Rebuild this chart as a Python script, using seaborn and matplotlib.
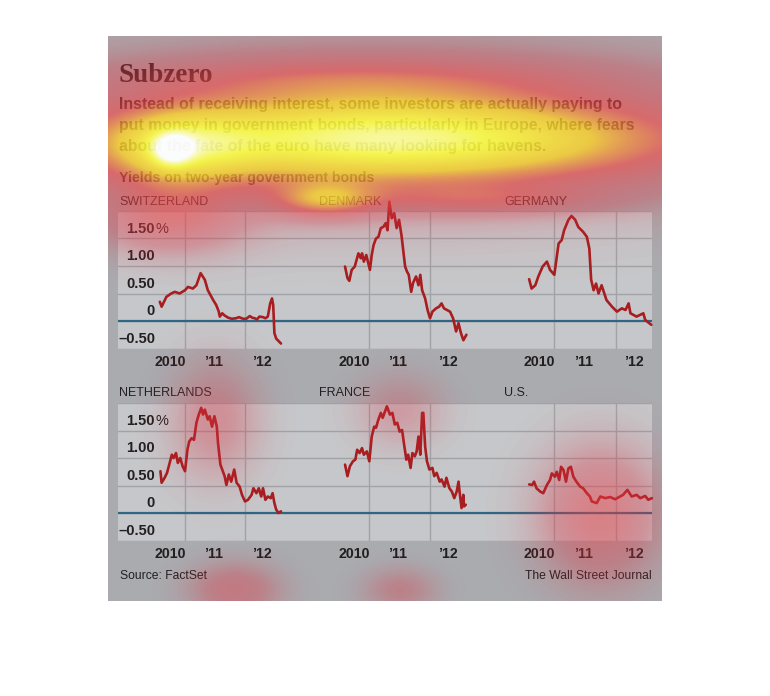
import numpy as np
import matplotlib
matplotlib.use("Agg")
import matplotlib.pyplot as plt
import matplotlib.transforms as mtransforms
from matplotlib.colors import LinearSegmentedColormap
from matplotlib.patches import Rectangle
from matplotlib.ticker import FixedLocator, FixedFormatter
import seaborn as sns

# Data: two-year government bond yields (decimal years, %)
swiss_t = [2010.58, 2010.61, 2010.69, 2010.77, 2010.83, 2010.91, 2011.00, 2011.05, 2011.13, 2011.19,
           2011.26, 2011.33, 2011.38, 2011.47, 2011.52, 2011.56, 2011.58, 2011.62, 2011.66, 2011.72,
           2011.78, 2011.85, 2011.90, 2011.97, 2012.02, 2012.08, 2012.12, 2012.16, 2012.20, 2012.24,
           2012.30, 2012.34, 2012.38, 2012.42, 2012.45, 2012.47, 2012.49, 2012.52, 2012.60]
swiss_v = [0.35, 0.26, 0.44, 0.50, 0.53, 0.50, 0.56, 0.62, 0.59, 0.65,
           0.87, 0.75, 0.56, 0.38, 0.29, 0.18, 0.08, 0.14, 0.10, 0.06,
           0.04, 0.05, 0.07, 0.04, 0.04, 0.09, 0.06, 0.05, 0.03, 0.08,
           0.07, 0.05, 0.08, 0.32, 0.41, 0.29, -0.22, -0.32, -0.41]

denmark_t = [2010.60, 2010.64, 2010.67, 2010.71, 2010.76, 2010.79, 2010.82, 2010.86, 2010.88, 2010.91,
             2010.95, 2011.01, 2011.04, 2011.07, 2011.11, 2011.15, 2011.19, 2011.23, 2011.27, 2011.30,
             2011.33, 2011.37, 2011.41, 2011.45, 2011.49, 2011.53, 2011.59, 2011.62, 2011.65, 2011.69,
             2011.72, 2011.77, 2011.81, 2011.84, 2011.87, 2011.92, 2011.96, 2012.00, 2012.04, 2012.10,
             2012.15, 2012.19, 2012.23, 2012.28, 2012.33, 2012.38, 2012.43, 2012.47, 2012.51, 2012.55,
             2012.60]
denmark_v = [0.99, 0.78, 0.73, 0.93, 0.99, 1.11, 1.23, 1.14, 1.23, 1.08,
             1.20, 0.93, 1.20, 1.38, 1.50, 1.53, 1.69, 1.71, 1.78, 1.65,
             2.17, 1.87, 1.96, 1.69, 1.84, 1.56, 0.99, 0.90, 0.84, 0.53,
             0.69, 0.81, 0.65, 0.84, 0.56, 0.41, 0.20, 0.05, 0.17, 0.23,
             0.26, 0.32, 0.23, 0.20, 0.17, 0.05, -0.19, -0.04, -0.22, -0.35,
             -0.25]

germany_t = [2010.59, 2010.63, 2010.69, 2010.74, 2010.81, 2010.88, 2010.93, 2011.00, 2011.07, 2011.12,
             2011.16, 2011.23, 2011.28, 2011.34, 2011.39, 2011.47, 2011.53, 2011.57, 2011.60, 2011.64,
             2011.68, 2011.72, 2011.77, 2011.85, 2011.94, 2012.02, 2012.10, 2012.16, 2012.21, 2012.24,
             2012.34, 2012.45, 2012.48, 2012.58]
germany_v = [0.76, 0.59, 0.65, 0.81, 0.99, 1.08, 0.93, 0.84, 1.41, 1.47,
             1.65, 1.84, 1.91, 1.84, 1.71, 1.62, 1.53, 1.32, 0.75, 0.56,
             0.68, 0.50, 0.65, 0.38, 0.26, 0.17, 0.23, 0.20, 0.32, 0.14,
             0.08, 0.14, 0.02, -0.07]

netherlands_t = [2010.59, 2010.61, 2010.66, 2010.70, 2010.73, 2010.78, 2010.81, 2010.85, 2010.88, 2010.92,
                 2010.96, 2011.00, 2011.04, 2011.07, 2011.11, 2011.15, 2011.19, 2011.23, 2011.27, 2011.30,
                 2011.33, 2011.38, 2011.41, 2011.45, 2011.49, 2011.53, 2011.55, 2011.59, 2011.63, 2011.66,
                 2011.69, 2011.73, 2011.77, 2011.82, 2011.86, 2011.91, 2011.95, 2012.00, 2012.05, 2012.11,
                 2012.14, 2012.19, 2012.23, 2012.27, 2012.30, 2012.34, 2012.38, 2012.43, 2012.46, 2012.49,
                 2012.52, 2012.56, 2012.60]
netherlands_v = [0.76, 0.55, 0.64, 0.73, 0.85, 1.06, 1.00, 1.09, 0.91, 1.00,
                 0.85, 0.76, 1.15, 1.30, 1.36, 1.33, 1.64, 1.79, 1.91, 1.79,
                 1.88, 1.70, 1.76, 1.57, 1.76, 1.57, 1.27, 0.88, 0.76, 0.67,
                 0.51, 0.70, 0.57, 0.79, 0.55, 0.48, 0.33, 0.21, 0.24, 0.33,
                 0.45, 0.36, 0.45, 0.30, 0.45, 0.24, 0.30, 0.27, 0.36, 0.18,
                 0.06, 0.00, 0.03]

france_t = [2010.60, 2010.64, 2010.68, 2010.73, 2010.77, 2010.80, 2010.84, 2010.88, 2010.91, 2010.96,
            2011.00, 2011.04, 2011.08, 2011.11, 2011.15, 2011.19, 2011.22, 2011.26, 2011.29, 2011.34,
            2011.38, 2011.42, 2011.46, 2011.50, 2011.54, 2011.57, 2011.61, 2011.64, 2011.68, 2011.71,
            2011.75, 2011.78, 2011.81, 2011.84, 2011.87, 2011.89, 2011.92, 2011.95, 2011.99, 2012.04,
            2012.07, 2012.11, 2012.16, 2012.19, 2012.24, 2012.27, 2012.32, 2012.36, 2012.40, 2012.44,
            2012.47, 2012.49, 2012.52, 2012.55, 2012.56, 2012.59]
france_v = [0.88, 0.67, 0.85, 0.94, 0.97, 1.15, 1.09, 1.18, 1.06, 1.12,
            0.94, 1.39, 1.57, 1.55, 1.70, 1.82, 1.73, 1.85, 1.94, 1.79,
            1.82, 1.61, 1.64, 1.48, 1.51, 1.27, 0.97, 1.06, 0.82, 1.09,
            1.03, 1.12, 1.39, 1.06, 1.82, 1.82, 1.21, 0.94, 0.79, 0.82,
            0.67, 0.73, 0.57, 0.61, 0.48, 0.64, 0.45, 0.39, 0.27, 0.39,
            0.57, 0.36, 0.09, 0.33, 0.12, 0.15]

us_t = [2010.59, 2010.64, 2010.67, 2010.71, 2010.77, 2010.82, 2010.88, 2010.93, 2010.96, 2011.01,
        2011.04, 2011.08, 2011.11, 2011.15, 2011.19, 2011.23, 2011.27, 2011.31, 2011.36, 2011.42,
        2011.47, 2011.53, 2011.58, 2011.61, 2011.69, 2011.75, 2011.83, 2011.91, 2011.99, 2012.07,
        2012.12, 2012.19, 2012.26, 2012.34, 2012.40, 2012.48, 2012.53, 2012.59]
us_v = [0.52, 0.51, 0.57, 0.45, 0.39, 0.36, 0.51, 0.60, 0.72, 0.66,
        0.75, 0.60, 0.84, 0.78, 0.57, 0.81, 0.84, 0.66, 0.57, 0.48,
        0.45, 0.36, 0.30, 0.21, 0.18, 0.30, 0.27, 0.29, 0.25, 0.30,
        0.33, 0.42, 0.30, 0.33, 0.27, 0.31, 0.24, 0.27]

countries = ["SWITZERLAND", "DENMARK", "GERMANY", "NETHERLANDS", "FRANCE", "U.S."]
series_t = [swiss_t, denmark_t, germany_t, netherlands_t, france_t, us_t]
series_v = [swiss_v, denmark_v, germany_v, netherlands_v, france_v, us_v]

ytick_vals = [1.5, 1.0, 0.5, 0.0, -0.5]
ytick_labels = ["1.50", "1.00", "0.50", "0", "\u20130.50"]
xtick_pos = [2010.76, 2011.47, 2012.29]
xtick_labels = ["2010", "\u201911", "\u201912"]
year_lines = [2011, 2012]

# eye-tracking heat overlay: blob centres (px), spreads (px), strengths
heat_x = [390, 380, 178, 172, 350, 170, 325, 480, 215, 235, 400, 400, 600]
heat_y = [140, 128, 148, 150, 78, 215, 200, 200, 420, 590, 410, 590, 515]
heat_sx = [200, 230, 50, 14, 170, 50, 35, 80, 30, 30, 30, 25, 40]
heat_sy = [30, 55, 24, 12, 16, 25, 12, 10, 40, 18, 25, 15, 45]
heat_w = [0.66, 0.24, 0.35, 0.35, 0.18, 0.24, 0.35, 0.18, 0.14, 0.18, 0.10, 0.12, 0.24]

sns.set_theme(style="white")
plt.rcParams["font.family"] = ["Liberation Sans", "DejaVu Sans"]

W, H = 770, 696
fig = plt.figure(figsize=(W / 100, H / 100), dpi=100)
fig.patch.set_facecolor("white")

outer_bg = "#a9abaf"
plot_bg = "#c6c7ca"
grid_c = "#a2a3a7"
zero_c = "#2e6683"
line_c = "#a81d1f"
text_c = "#231f20"

# gray card behind everything
box = (108, 36, 662, 601)
fig.patches.append(Rectangle((box[0] / W, 1 - box[3] / H), (box[2] - box[0]) / W,
                             (box[3] - box[1]) / H, transform=fig.transFigure,
                             facecolor=outer_bg, edgecolor="none", zorder=-5))

panel_xlim = [(2009.883, 2012.850), (2009.792, 2012.725), (2009.692, 2012.591)]
row_top = [211, 403]
plot_h = 137.5
panel_w = 178

axes = []
for i in range(6):
    r, c = divmod(i, 3)
    left = (118 + panel_w * c) / W
    bottom = 1 - (row_top[r] + plot_h) / H
    ax = fig.add_axes([left, bottom, panel_w / W, plot_h / H])
    ax.set_facecolor(plot_bg)
    ax.set_xlim(*panel_xlim[c])
    ax.set_ylim(-0.5, 2.0)
    ax.set_yticks([-0.5, 0, 0.5, 1.0, 1.5, 2.0])
    ax.set_yticklabels([])
    ax.xaxis.set_major_locator(FixedLocator(year_lines))
    ax.xaxis.set_minor_locator(FixedLocator(xtick_pos))
    ax.xaxis.set_major_formatter(FixedFormatter(["", ""]))
    ax.xaxis.set_minor_formatter(FixedFormatter(xtick_labels))
    ax.tick_params(which="both", length=0)
    ax.tick_params(axis="x", which="minor", pad=5, labelsize=10.2, labelcolor=text_c)
    for lab in ax.xaxis.get_minorticklabels():
        lab.set_fontweight("bold")
    ax.grid(True, which="major", color=grid_c, lw=1.0)
    for s in ax.spines.values():
        s.set_visible(False)
    ax.axhline(0, color=zero_c, lw=1.6, zorder=2)
    sns.lineplot(x=series_t[i], y=series_v[i], ax=ax, color=line_c, lw=1.9,
                 estimator=None, sort=False, clip_on=False, zorder=3)
    ax.set_xlabel("")
    ax.set_ylabel("")
    if c == 0:
        tr = mtransforms.blended_transform_factory(ax.transAxes, ax.transData)
        tr = tr + mtransforms.ScaledTranslation(0, 2 / 72, fig.dpi_scale_trans)
        for val, lab in zip(ytick_vals, ytick_labels):
            ax.text(0.208, val, lab, transform=tr, ha="right", va="bottom",
                    fontsize=10.5, fontweight="bold", color=text_c)
        ax.text(0.208, 1.5, "%", transform=tr, ha="left", va="bottom",
                fontsize=10.5, color=text_c)
    axes.append(ax)

# panel titles
title_x = [119.5, 319, 504]
title_y = [202, 393]
for i, name in enumerate(countries):
    r, c = divmod(i, 3)
    fig.text(title_x[c] / W, 1 - title_y[r] / H, name, ha="left", va="center",
             fontsize=9, color=text_c)

fig.text(119 / W, 1 - 75 / H, "Subzero", family=["Liberation Serif", "DejaVu Serif"],
         fontsize=19.5, fontweight="bold", color=text_c, ha="left", va="center")
sub = ["Instead of receiving interest, some investors are actually paying to",
       "put money in government bonds, particularly in Europe, where fears",
       "about the fate of the euro have many looking for havens."]
for k, line in enumerate(sub):
    fig.text(119 / W, 1 - (105 + 20.7 * k) / H, line, fontsize=11.45, fontweight="bold",
             color=text_c, ha="left", va="center")
fig.text(119 / W, 1 - 178 / H, "Yields on two-year government bonds", fontsize=10.2,
         fontweight="bold", color=text_c, ha="left", va="center")
fig.text(119.5 / W, 1 - 576 / H, "Source: FactSet", fontsize=8.7, color=text_c,
         ha="left", va="center")
fig.text(652 / W, 1 - 576 / H, "The Wall Street Journal", fontsize=8.7, color=text_c,
         ha="right", va="center")

# heat overlay, kept inside the gray card
gx, gy = np.meshgrid(np.arange(W) + 0.5, np.arange(H) + 0.5)
field = np.zeros((H, W))
for x0, y0, sx, sy, w in zip(heat_x, heat_y, heat_sx, heat_sy, heat_w):
    field += w * np.exp(-0.5 * (((gx - x0) / sx) ** 2 + ((gy - y0) / sy) ** 2))
field = np.clip(field, 0, 1)
outside = (gx < box[0]) | (gx > box[2]) | (gy < box[1]) | (gy > box[3])
field = np.ma.masked_where(outside, field)
heat_cmap = LinearSegmentedColormap.from_list("heat", [
    (0.00, (0.86, 0.16, 0.22, 0.0)),
    (0.12, (0.88, 0.20, 0.26, 0.35)),
    (0.35, (0.95, 0.28, 0.28, 0.65)),
    (0.55, (1.00, 0.82, 0.15, 0.78)),
    (0.80, (1.00, 1.00, 0.25, 0.88)),
    (1.00, (1.00, 1.00, 1.00, 0.97)),
])
heat_cmap.set_bad((1, 1, 1, 0))
hax = fig.add_axes([0, 0, 1, 1], zorder=10)
hax.imshow(field, cmap=heat_cmap, vmin=0, vmax=1, extent=(0, W, H, 0),
           aspect="auto", interpolation="nearest")
hax.set_xlim(0, W)
hax.set_ylim(H, 0)
hax.axis("off")

fig.savefig("out.png", dpi=100)
